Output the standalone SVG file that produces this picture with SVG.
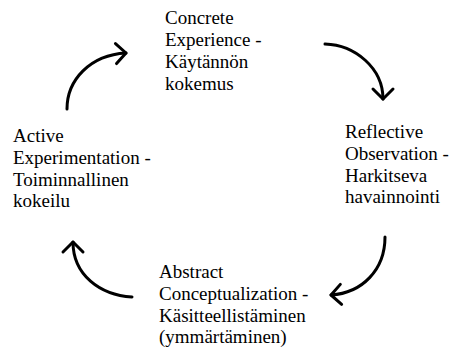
<svg xmlns="http://www.w3.org/2000/svg" width="451" height="347" viewBox="0 0 451 347">
  <style>
    .lbl { font-family: "Liberation Serif", "Times New Roman", serif; font-size: 19px; fill: #000; }
    .arc { fill: none; stroke: #000; stroke-width: 3; stroke-linecap: round; }
  </style>
  <defs>
    <marker id="chev" markerUnits="userSpaceOnUse" markerWidth="24" markerHeight="24" viewBox="-12 -12 24 24" refX="0" refY="0" orient="auto" overflow="visible">
      <path d="M-10,-10 L0,0 L-10,10" fill="none" stroke="#000" stroke-width="3" stroke-linecap="round" stroke-linejoin="round"/>
    </marker>
  </defs>

  <rect width="451" height="347" fill="#fff"/>

  <!-- cycle arrows -->
  <g id="connectors">
    <path class="arc" d="M67,109 C67,80 90,55 126,53" marker-end="url(#chev)"/>
    <path class="arc" d="M325,44 C355,45 383,68 383,99" marker-end="url(#chev)"/>
    <path class="arc" d="M385,237 C385,270 362,293 331,295" marker-end="url(#chev)"/>
    <path class="arc" d="M132,297 C100,295 73,275 73,242" marker-end="url(#chev)"/>
  </g>

  <g id="concrete">
    <text class="lbl" x="165" y="24">Concrete</text>
    <text class="lbl" x="165" y="46">Experience -</text>
    <text class="lbl" x="165" y="68">Käytännön</text>
    <text class="lbl" x="165" y="90">kokemus</text>
  </g>

  <g id="reflective">
    <text class="lbl" x="345" y="138">Reflective</text>
    <text class="lbl" x="345" y="160">Observation -</text>
    <text class="lbl" x="345" y="181.5">Harkitseva</text>
    <text class="lbl" x="345" y="203">havainnointi</text>
  </g>

  <g id="abstract">
    <text class="lbl" x="159" y="278">Abstract</text>
    <text class="lbl" x="159" y="300">Conceptualization -</text>
    <text class="lbl" x="159" y="321.5">Käsitteellistäminen</text>
    <text class="lbl" x="159" y="343">(ymmärtäminen)</text>
  </g>

  <g id="active">
    <text class="lbl" x="13" y="142">Active</text>
    <text class="lbl" x="13" y="164">Experimentation -</text>
    <text class="lbl" x="13" y="185.5">Toiminnallinen</text>
    <text class="lbl" x="13" y="207">kokeilu</text>
  </g>
</svg>
